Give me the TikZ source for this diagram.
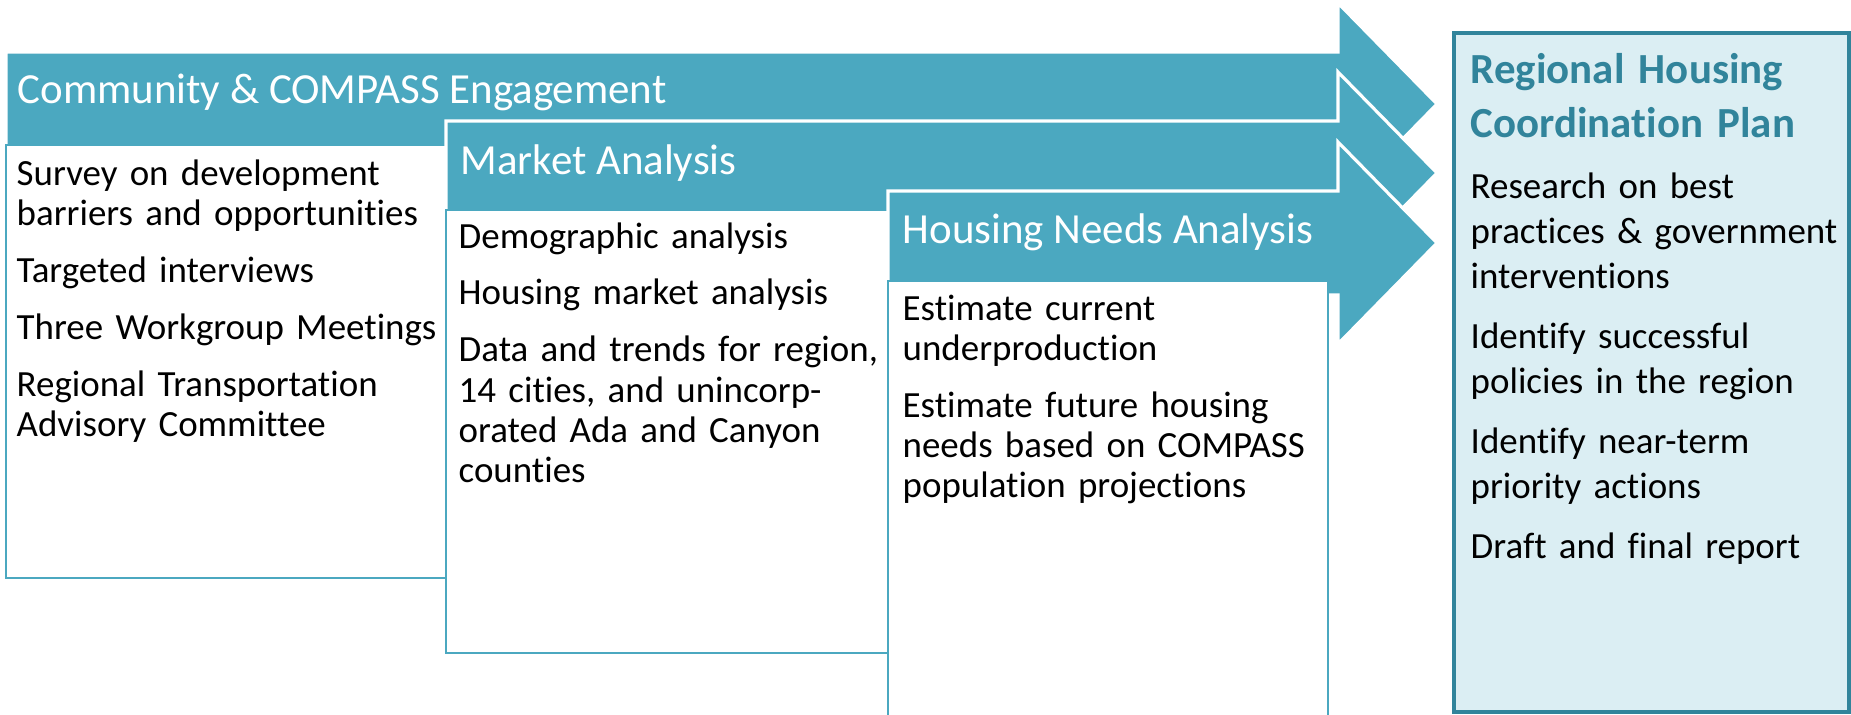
\documentclass[tikz,border=0pt]{standalone}
\usepackage{fontspec}
\setmainfont{Carlito}[Ligatures=NoCommon]
\definecolor{aqua}{HTML}{4BA8C0}
\definecolor{aquadark}{HTML}{31849B}
\definecolor{aqualight}{HTML}{DBEEF3}
\tikzset{
	phase/.style={fill=aqua, draw=white, line width=0.9pt},
	listbox/.style={fill=white, draw=aqua, line width=0.8pt},
	heading/.style={anchor=base west, inner sep=0pt, text=white, font=\fontsize{12.2}{14}\selectfont},
	listtext/.style={anchor=base west, inner sep=0pt, text width=4.5cm, align=left, font=\fontsize{10.5}{11.4}\selectfont},
}

\begin{document}
\begin{tikzpicture}[x=0.01cm, y=-0.01cm]
	\useasboundingbox (0,0) rectangle (1851,714);
	% community & compass engagement
	\draw[phase] (6,52) -- (1338,52) -- (1338,3) -- (1437,104) -- (1338,205) -- (1338,156) -- (6,156) -- cycle;
	\draw[listbox] (6,145) rectangle (446,578);
	\node[heading] (engage) at (17,103) {Community \& COMPASS Engagement};
	\node[listtext] (engagelist) at (16,185) {Survey on development\\ barriers and opportunities\\[4.8pt] Targeted interviews\\[4.8pt] Three Workgroup Meetings\\[4.8pt] Regional Transportation\\ Advisory Committee};

	% market analysis
	\draw[phase] (446,121) -- (1338,121) -- (1338,72) -- (1437,173) -- (1338,274) -- (1338,225) -- (446,225) -- cycle;
	\draw[listbox] (446,210) rectangle (888,653);
	\node[heading] (market) at (460,174) {Market Analysis};
	\node[listtext] (marketlist) at (458,248) {Demographic analysis\\[4.8pt] Housing market analysis\\[4.8pt] Data and trends for region,\\ 14 cities, and unincorp-\\ orated Ada and Canyon\\ counties};

	% housing needs analysis
	\draw[phase] (888,191) -- (1338,191) -- (1338,142) -- (1437,243) -- (1338,344) -- (1338,295) -- (888,295) -- cycle;
	\draw[listbox] (888,281) rectangle (1328,720);
	\node[heading] (needs) at (902,243) {Housing Needs Analysis};
	\node[listtext] (needslist) at (902,320) {Estimate current\\ underproduction\\[4.8pt] Estimate future housing\\ needs based on COMPASS\\ population projections};

	% regional housing coordination plan
	\draw[fill=aqualight, draw=aquadark, line width=1pt] (1454,33) rectangle (1849,712);
	\node[anchor=base west, inner sep=0pt, text width=3.9cm, align=left, text=aquadark, font=\fontsize{12.2}{15.6}\selectfont\bfseries] (plantitle) at (1470,83) {Regional Housing\\ Coordination Plan};
	\node[listtext, font=\fontsize{10.5}{12.8}\selectfont] (planlist) at (1470,198) {Research on best\\ practices \& government\\ interventions\\[4.3pt] Identify successful\\ policies in the region\\[4.3pt] Identify near-term\\ priority actions\\[4.3pt] Draft and final report};
\end{tikzpicture}
\end{document}
